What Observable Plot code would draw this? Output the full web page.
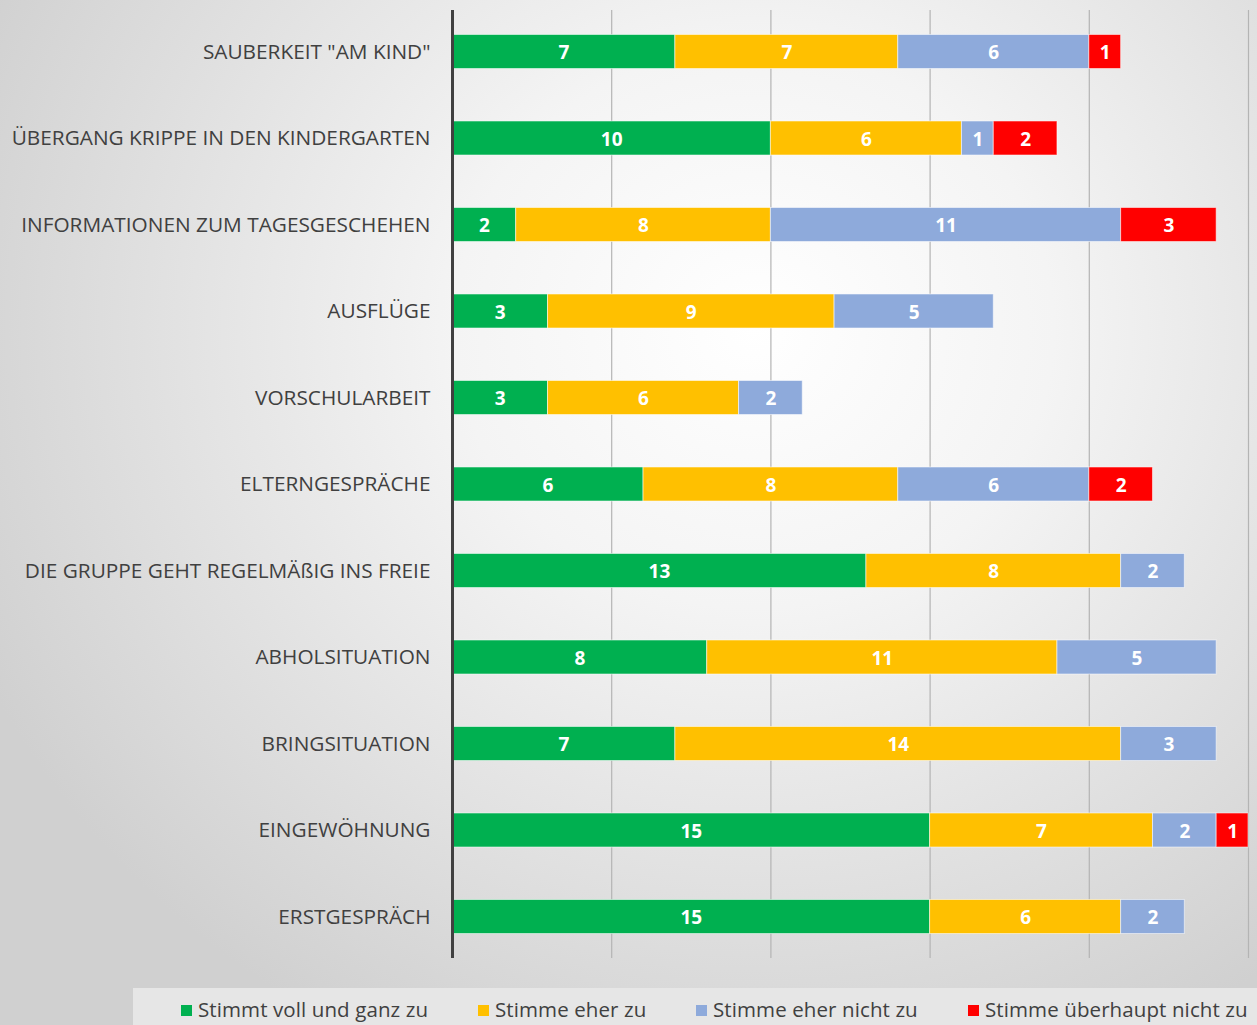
<!DOCTYPE html>
<html>
<head>
<meta charset="utf-8">
<script src="https://cdn.jsdelivr.net/npm/d3@7"></script>
<script src="https://cdn.jsdelivr.net/npm/@observablehq/plot@0.6"></script>
<style>
  html, body { margin: 0; padding: 0; }
  body {
    width: 1257px; height: 1025px; overflow: hidden; position: relative;
    background: radial-gradient(ellipse 68% 78% at 60% 32%, #ffffff 0%, #f4f4f4 35%, #d0d0d0 100%);
    font-family: "Open Sans", sans-serif;
  }
  #chart { position: absolute; left: 0; top: 0; }
  #legend {
    position: absolute; left: 133px; top: 988px; width: 1124px; height: 37px;
    background: #e6e6e6;
  }
  .item { position: absolute; top: 9px; font-size: 20.5px; color: #404040; white-space: nowrap; line-height: 24px; letter-spacing: 0.1px; }
  .sw { display: inline-block; width: 11px; height: 11px; margin-right: 6px; vertical-align: 1px; }
</style>
</head>
<body>
<div id="chart"></div>
<div id="legend"></div>
<script>
const categories = [
  'SAUBERKEIT "AM KIND"',
  "ÜBERGANG KRIPPE IN DEN KINDERGARTEN",
  "INFORMATIONEN ZUM TAGESGESCHEHEN",
  "AUSFLÜGE",
  "VORSCHULARBEIT",
  "ELTERNGESPRÄCHE",
  "DIE GRUPPE GEHT REGELMÄßIG INS FREIE",
  "ABHOLSITUATION",
  "BRINGSITUATION",
  "EINGEWÖHNUNG",
  "ERSTGESPRÄCH"
];
const seriesNames = ["Stimmt voll und ganz zu", "Stimme eher zu", "Stimme eher nicht zu", "Stimme überhaupt nicht zu"];
const seriesColors = ["#00b050", "#ffc000", "#8eaadb", "#ff0000"];
const stimmtVoll    = [7, 10, 2, 3, 3, 6, 13, 8, 7, 15, 15];
const stimmeEher    = [7, 6, 8, 9, 6, 8, 8, 11, 14, 7, 6];
const eherNicht     = [6, 1, 11, 5, 2, 6, 2, 5, 3, 2, 2];
const ueberhauptNicht = [1, 2, 3, 0, 0, 2, 0, 0, 0, 1, 0];
const gridTicks = [5, 10, 15, 20, 25];

const seriesValues = [stimmtVoll, stimmeEher, eherNicht, ueberhauptNicht];
const data = [];
categories.forEach((c, i) => {
  seriesNames.forEach((s, j) => {
    data.push({cat: c, series: s, value: seriesValues[j][i]});
  });
});
const shown = data.filter(d => d.value > 0);

const chart = Plot.plot({
  width: 1257,
  height: 988,
  marginLeft: 452,
  marginRight: 9,
  marginTop: 10,
  marginBottom: 30,
  style: {background: "transparent", fontFamily: "Open Sans, sans-serif"},
  x: {domain: [0, 25], axis: null},
  y: {domain: categories, paddingInner: 0.6065, paddingOuter: 0.283, round: false, label: null},
  color: {domain: seriesNames, range: seriesColors},
  marks: [
    Plot.ruleX(gridTicks, {stroke: "#b4b4b4", strokeWidth: 1.2}),
    Plot.barX(shown, Plot.stackX({x: "value", y: "cat", z: "series", fill: "series", stroke: "#ffffff", strokeOpacity: 0.55, strokeWidth: 1, inset: 0})),
    Plot.text(shown, Plot.stackX({x: "value", y: "cat", z: "series", text: d => String(d.value), fill: "white", fontWeight: "bold", fontSize: 19, dy: 1})),
    Plot.ruleX([0], {stroke: "#404040", strokeWidth: 3}),
    Plot.axisY({tickSize: 0, tickPadding: 22, fontSize: 20.8, fill: "#404040", label: null})
  ]
});
document.getElementById("chart").appendChild(chart);

const legend = document.getElementById("legend");
const lx = [48, 345, 563, 835];
seriesNames.forEach((s, j) => {
  const el = document.createElement("div");
  el.className = "item";
  el.style.left = lx[j] + "px";
  el.innerHTML = `<span class="sw" style="background:${seriesColors[j]}"></span>${s}`;
  legend.appendChild(el);
});
</script>
</body>
</html>
